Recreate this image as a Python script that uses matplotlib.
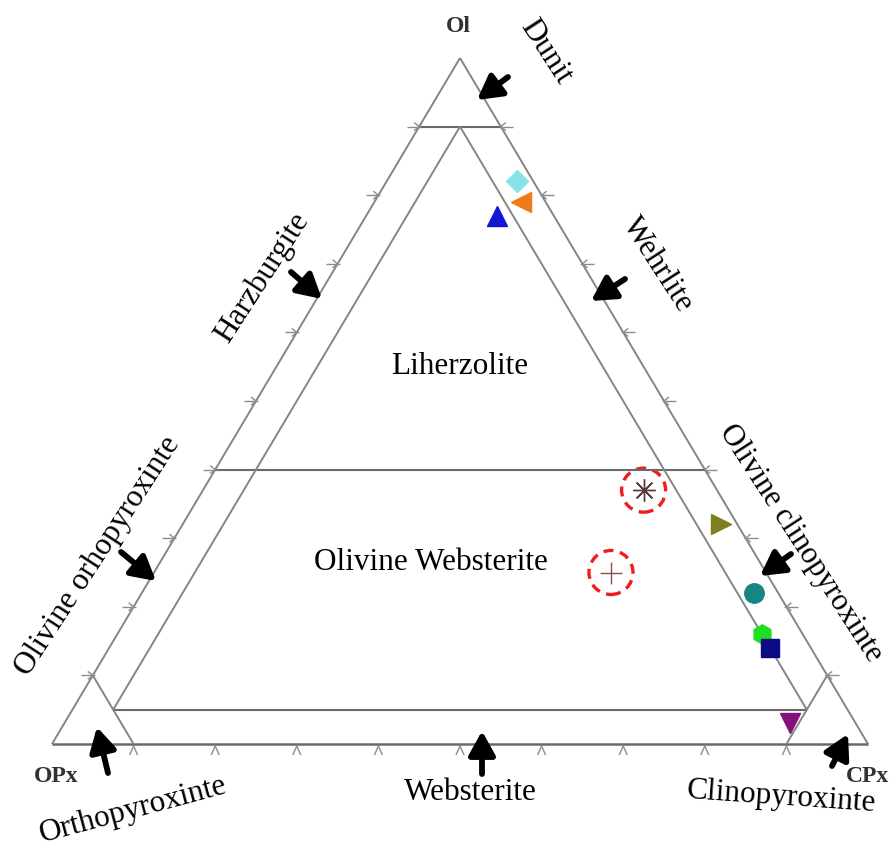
import matplotlib.pyplot as plt
from matplotlib.patches import Ellipse

# sample compositions (%), olivine / orthopyroxene / clinopyroxene
ol = [82, 79, 77, 37, 25, 32, 22, 16, 14, 3]
opx = [2, 3, 7, 9, 19, 2, 3, 5, 5, 8]
cpx = [16, 18, 16, 54, 56, 66, 75, 79, 81, 89]
markers = ['D', '<', '^', (8, 2, 0), '+', '>', 'o', 'h', 's', 'v']
colors = ['#86e3ea', '#f07a1a', '#1515d6', '#5a3c3c', '#8a5050',
          '#7f7f1f', '#168585', '#1fe01f', '#0a0a85', '#86107a']
sizes = [11, 14, 14, 16, 16, 14, 14, 14, 13, 14]
circled = [3, 4]  # samples marked with a dashed red ring

W, H = 890, 850
SX, SY = 816, 686          # pixel size of the triangle base / height
X0, Y0 = 52, 744           # pixel position of the OPx corner

fig = plt.figure(figsize=(W / 100, H / 100), dpi=100)
ax = fig.add_axes([0, 0, 1, 1])
ax.set_xlim(-X0 / SX, (W - X0) / SX)
ax.set_ylim(-(H - Y0) / SY, Y0 / SY)
ax.axis('off')

plt.rcParams['font.family'] = ['Liberation Serif', 'DejaVu Serif']


def tern(o, p, c):
    s = o + p + c
    return (c + 0.5 * o) / s, o / s


def px(x, y):
    return (x - X0) / SX, (Y0 - y) / SY


def off(pt, dx, dy):
    return pt[0] + dx / SX, pt[1] - dy / SY


def seg(a, b, **kw):
    ax.plot([a[0], b[0]], [a[1], b[1]], solid_capstyle='butt', **kw)


edge = dict(color='#858585', lw=1.4)
hline = dict(color='#6a6a6a', lw=1.5)

# outer triangle
seg(tern(0, 100, 0), tern(100, 0, 0), **edge)
seg(tern(0, 0, 100), tern(100, 0, 0), **edge)
seg(tern(0, 100, 0), tern(0, 0, 100), color='#6a6a6a', lw=1.8)

# field boundaries
seg(tern(90, 10, 0), tern(90, 0, 10), **hline)
seg(tern(40, 60, 0), tern(40, 0, 60), **hline)
seg(tern(5, 90, 5), tern(5, 5, 90), **hline)
seg(tern(90, 5, 5), tern(5, 90, 5), **edge)
seg(tern(90, 5, 5), tern(5, 5, 90), **edge)
seg(tern(10, 90, 0), tern(0, 90, 10), **edge)
seg(tern(10, 0, 90), tern(0, 10, 90), **edge)

# ticks every 10 %
tk = dict(color='#8c8c8c', lw=1.0)
for k in range(10, 100, 10):
    p = tern(k, 100 - k, 0)
    seg(off(p, -12, 0), off(p, 2, 0), **tk)
    seg(off(p, -5, -4), p, **tk)
    seg(off(p, -5, 4), p, **tk)
    q = tern(k, 0, 100 - k)
    seg(off(q, -2, 0), off(q, 12, 0), **tk)
    seg(off(q, 5, -4), q, **tk)
    seg(off(q, 5, 4), q, **tk)
    b = tern(0, 100 - k, k)
    seg(off(b, -4, 11), off(b, 0, 2), **tk)
    seg(off(b, 4, 11), off(b, 0, 2), **tk)

# samples
for i in range(len(ol)):
    x, y = tern(ol[i], opx[i], cpx[i])
    m = markers[i]
    if m in ['+', (8, 2, 0)]:
        ax.plot(x, y, marker=m, ms=sizes[i], color=colors[i], mew=1.0, ls='none')
    else:
        ax.plot(x, y, marker=m, ms=sizes[i], color=colors[i], mec=colors[i], ls='none')
    if i in circled:
        ax.add_patch(Ellipse((x, y), 44 / SX, 44 / SY, fill=False, ec='#ee1c1c',
                             lw=2.4, ls=(0, (3, 2))))

# corner labels
ax.text(*px(458, 26), 'Ol', fontsize=17, fontweight='bold', color='#333333',
        ha='center', va='center')
ax.text(*px(56, 777), 'OPx', fontsize=17, fontweight='bold', color='#333333',
        ha='center', va='center')
ax.text(*px(846, 777), 'CPx', fontsize=17, fontweight='bold', color='#333333',
        ha='left', va='center')

# rock names
fs = 22.5
names = [
    ('Dunit', 546, 52, -57, fs),
    ('Wehrlite', 657, 265, -57, fs),
    ('Harzburgite', 262, 278, 57, fs),
    ('Liherzolite', 460, 367, 0, fs),
    ('Olivine Websterite', 431, 563, 0, fs),
    ('Olivine orhopyroxinte', 98, 556, 57, fs),
    ('Olivine clinopyroxinte', 801, 543, -57, 22),
    ('Orthopyroxinte', 133, 810, 15, fs),
    ('Websterite', 470, 793, 0, fs),
    ('Clinopyroxinte', 781, 797, -4, fs),
]
for txt, x, y, rot, size in names:
    ax.text(*px(x, y), txt, fontsize=size, rotation=rot, rotation_mode='anchor',
            ha='center', va='center')

# pointer arrows (tail -> head)
arrows = [
    ((508, 77), (477, 100)),
    ((625, 279), (591, 301)),
    ((291, 272), (322, 299)),
    ((121, 552), (156, 581)),
    ((791, 554), (760, 576)),
    ((108, 773), (97, 727)),
    ((482, 774), (482, 731)),
    ((832, 766), (848, 734)),
]
for tail, head in arrows:
    ax.annotate('', xy=px(*head), xytext=px(*tail),
                arrowprops=dict(arrowstyle='-|>,head_length=0.9,head_width=0.5',
                                lw=4.2, color='black', shrinkA=0, shrinkB=0,
                                mutation_scale=16))

fig.savefig('out.png', dpi=100)
